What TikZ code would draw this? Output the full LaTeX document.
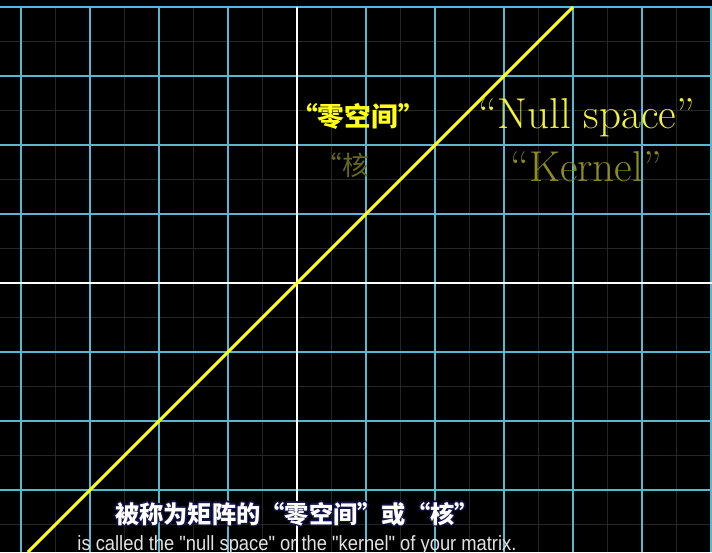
\documentclass[tikz,border=0pt]{standalone}
\usepackage{fontspec}
\newfontfamily\cjk{Noto Sans CJK SC}
\newfontfamily\subsans{Liberation Sans}
\definecolor{gridblue}{HTML}{58B8D2}
\definecolor{minorgray}{HTML}{262626}
\definecolor{lineyellow}{HTML}{FFFF1A}
\definecolor{labelyellow}{HTML}{F2F23A}
\definecolor{dimolive}{HTML}{66661C}
\definecolor{kernelolive}{HTML}{8C8C22}
\definecolor{outlinenavy}{HTML}{141446}
\definecolor{subgray}{HTML}{E2E2E2}
\tikzset{
  minorgrid/.style={draw=minorgray, line width=0.4pt},
  majorgrid/.style={draw=gridblue, line width=0.8pt},
  axisline/.style={draw=white, line width=0.9pt},
  nullline/.style={draw=lineyellow, line width=1.3pt},
  cjklabel/.style={inner sep=0pt, font=\cjk\bfseries\fontsize{11}{13}\selectfont},
  latinlabel/.style={inner sep=0pt, font=\fontsize{17.8}{20}\selectfont},
  subcn/.style={inner sep=0pt, font=\cjk\bfseries\fontsize{10}{12}\selectfont},
  suben/.style={inner sep=0pt, text=subgray, font=\subsans\fontsize{8.5}{10}\selectfont},
}
\begin{document}
\begin{tikzpicture}[x=1cm,y=1cm]
\fill[black] (-4.304,-3.899) rectangle (6.014,4.101);
\useasboundingbox (-4.304,-3.899) rectangle (6.014,4.101);
\draw[minorgrid] (-4.304,-3.899) grid[step=0.5] (6.014,4.0);
\draw[majorgrid] (-4.304,-3.899) grid[step=1] (6.014,4.0);
\draw[axisline] (-4.304,0) -- (6.014,0);
\draw[axisline] (0,-3.899) -- (0,4.0);
\coordinate (lstart) at (-3.899,-3.899);
\coordinate (lend) at (4.0,4.0);
\draw[nullline] (lstart) -- (lend);
\node[cjklabel, text=lineyellow] (cnnull) at (0.884,2.42) {“零空间”};
\node[latinlabel, text=labelyellow] (ennull) at (4.20,2.40) {``Null space''};
\node[cjklabel, font=\cjk\fontsize{11}{13}\selectfont, text=dimolive] (cnkernel) at (0.66,1.71) {“核};
\node[latinlabel, text=kernelolive] (enkernel) at (4.19,1.69) {``Kernel''};
\foreach \dx/\dy in {0.6/0,-0.6/0,0/0.6,0/-0.6,0.45/0.45,-0.45/0.45,0.45/-0.45,-0.45/-0.45}{
  \node[subcn, text=outlinenavy] at ([xshift=\dx pt, yshift=\dy pt]0.0,-3.348) {被称为矩阵的“零空间”或“核”};
}
\node[subcn, text=white] (subtitlecn) at (0.0,-3.348) {被称为矩阵的“零空间”或“核”};
\node[suben] (subtitleen) at (0,-3.80) {\scalebox{0.89}[1]{is called the "null space" or the "kernel" of your matrix.}};
\end{tikzpicture}
\end{document}
